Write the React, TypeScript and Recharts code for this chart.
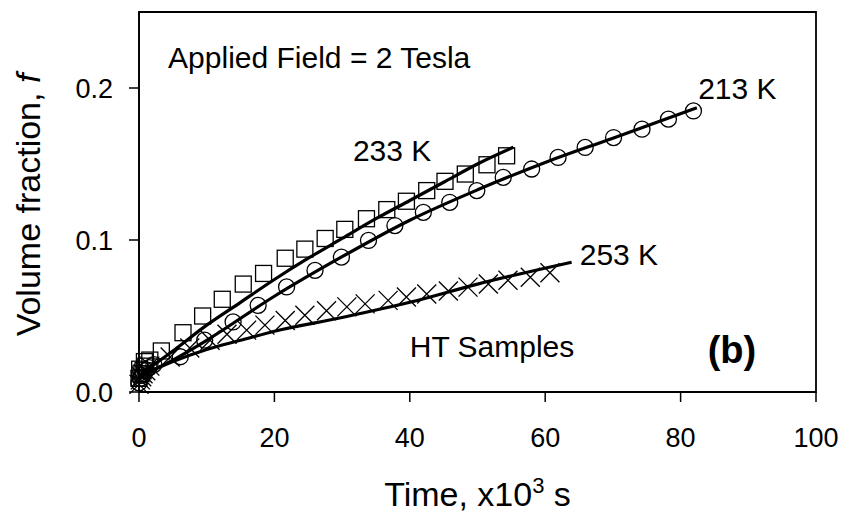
import { ComposedChart, Scatter, Line, XAxis, YAxis, ReferenceArea, ReferenceDot } from 'recharts';

// 213 K (circles), 233 K (squares), 253 K (crosses); time in 10^3 s, f = volume fraction
const circles213 = [
  { x: 0, y: 0.006 }, { x: 0.2, y: 0.009 }, { x: 0.4, y: 0.011 }, { x: 0.7, y: 0.012 },
  { x: 1.0, y: 0.014 }, { x: 1.5, y: 0.016 }, { x: 2.2, y: 0.018 }, { x: 6.1, y: 0.0232 },
  { x: 9.7, y: 0.0341 }, { x: 13.9, y: 0.0461 }, { x: 17.6, y: 0.057 }, { x: 21.8, y: 0.0691 },
  { x: 26.0, y: 0.08 }, { x: 29.9, y: 0.0887 }, { x: 33.9, y: 0.0997 }, { x: 37.8, y: 0.1095 },
  { x: 42.0, y: 0.1182 }, { x: 45.9, y: 0.1248 }, { x: 49.9, y: 0.1325 }, { x: 53.8, y: 0.1412 },
  { x: 58.0, y: 0.1467 }, { x: 61.9, y: 0.1543 }, { x: 65.9, y: 0.1609 }, { x: 70.1, y: 0.1674 },
  { x: 74.3, y: 0.1729 }, { x: 78.2, y: 0.1795 }, { x: 81.9, y: 0.1849 },
];

const squares233 = [
  { x: 0, y: 0.009 }, { x: 0.1, y: 0.015 }, { x: 0.3, y: 0.012 }, { x: 0.6, y: 0.014 },
  { x: 0.8, y: 0.020 }, { x: 1.0, y: 0.017 }, { x: 1.6, y: 0.021 }, { x: 3.3, y: 0.027 },
  { x: 6.5, y: 0.039 }, { x: 9.4, y: 0.050 }, { x: 12.3, y: 0.061 }, { x: 15.4, y: 0.071 },
  { x: 18.4, y: 0.078 }, { x: 21.6, y: 0.088 }, { x: 24.5, y: 0.094 }, { x: 27.5, y: 0.101 },
  { x: 30.4, y: 0.107 }, { x: 33.6, y: 0.114 }, { x: 36.6, y: 0.120 }, { x: 39.5, y: 0.1255 },
  { x: 42.5, y: 0.1325 }, { x: 45.2, y: 0.1386 }, { x: 48.2, y: 0.1434 }, { x: 51.4, y: 0.1495 },
  { x: 54.3, y: 0.1554 },
];

const crosses253 = [
  { x: 0, y: 0.005 }, { x: 0.2, y: 0.008 }, { x: 0.4, y: 0.010 }, { x: 0.6, y: 0.012 },
  { x: 1.0, y: 0.014 }, { x: 1.6, y: 0.017 }, { x: 4.6, y: 0.023 }, { x: 7.5, y: 0.029 },
  { x: 10.5, y: 0.034 }, { x: 13.0, y: 0.038 }, { x: 15.9, y: 0.0407 }, { x: 18.6, y: 0.044 },
  { x: 21.6, y: 0.047 }, { x: 24.5, y: 0.0505 }, { x: 27.7, y: 0.0535 }, { x: 30.7, y: 0.056 },
  { x: 33.4, y: 0.058 }, { x: 36.8, y: 0.0603 }, { x: 39.5, y: 0.0625 }, { x: 42.5, y: 0.0645 },
  { x: 45.7, y: 0.0665 }, { x: 48.6, y: 0.069 }, { x: 51.6, y: 0.071 }, { x: 54.5, y: 0.0735 },
  { x: 57.8, y: 0.0755 }, { x: 60.7, y: 0.0785 },
];

// fitted curves
const fit213 = [
  { x: 0, y: 0.010 }, { x: 5, y: 0.021 }, { x: 10, y: 0.034 }, { x: 20, y: 0.063 },
  { x: 30, y: 0.089 }, { x: 40, y: 0.113 }, { x: 50, y: 0.133 }, { x: 60, y: 0.151 },
  { x: 70, y: 0.167 }, { x: 82.4, y: 0.187 },
];

const fit233 = [
  { x: 0, y: 0.011 }, { x: 5, y: 0.027 }, { x: 10, y: 0.044 }, { x: 15, y: 0.059 },
  { x: 20, y: 0.074 }, { x: 25, y: 0.088 }, { x: 30, y: 0.101 }, { x: 35, y: 0.114 },
  { x: 40, y: 0.126 }, { x: 45, y: 0.138 }, { x: 50, y: 0.150 }, { x: 55.3, y: 0.161 },
];

const fit253 = [
  { x: 0, y: 0.010 }, { x: 5, y: 0.020 }, { x: 10, y: 0.028 }, { x: 15, y: 0.034 },
  { x: 20, y: 0.040 }, { x: 30, y: 0.049 }, { x: 40, y: 0.059 }, { x: 50, y: 0.071 },
  { x: 63.9, y: 0.0854 },
];

const xTicks = [0, 20, 40, 60, 80, 100];
const yTicks = [0, 0.1, 0.2];

const notes = [
  { x: 4.3, y: 0.2131, text: 'Applied Field = 2 Tesla', bold: false },
  { x: 31.6, y: 0.1521, text: '233 K', bold: false },
  { x: 82.6, y: 0.1928, text: '213 K', bold: false },
  { x: 65.1, y: 0.0833, text: '253 K', bold: false },
  { x: 40.0, y: 0.023, text: 'HT Samples', bold: false },
  { x: 84.0, y: 0.019, text: '(b)', bold: true },
];

const FONT = '"Liberation Sans", Arial, Helvetica, sans-serif';

const Square = (p: any) => (
  <rect x={p.cx - 8} y={p.cy - 8} width={16} height={16} fill="none" stroke="#000" strokeWidth={1.3} />
);
const Circle = (p: any) => <circle cx={p.cx} cy={p.cy} r={8} fill="none" stroke="#000" strokeWidth={1.3} />;
const Cross = (p: any) => (
  <path
    d={`M${p.cx - 9.5},${p.cy - 9.5}L${p.cx + 9.5},${p.cy + 9.5}M${p.cx - 9.5},${p.cy + 9.5}L${p.cx + 9.5},${p.cy - 9.5}`}
    stroke="#000"
    strokeWidth={1.3}
    fill="none"
  />
);

const XTitle = (props: any) => {
  const vb = props.viewBox;
  return (
    <text x={vb.x + vb.width / 2} y={vb.y + 114} textAnchor="middle" fontSize={34} fontFamily={FONT} fill="#000">
      Time, x10
      <tspan dy={-13} fontSize={22}>3</tspan>
      <tspan dy={13}> s</tspan>
    </text>
  );
};

const YTitle = (props: any) => {
  const vb = props.viewBox;
  const cx = 40;
  const cy = vb.y + vb.height / 2 + 3;
  return (
    <text x={cx} y={cy} transform={`rotate(-90, ${cx}, ${cy})`} textAnchor="middle" fontSize={34} fontFamily={FONT} fill="#000">
      Volume fraction, <tspan fontStyle="italic">f</tspan>
    </text>
  );
};

export default function App() {
  return (
    <div style={{ position: 'absolute', left: 0, top: 0, width: 847, height: 521, background: '#fff' }}>
      <ComposedChart width={847} height={521} margin={{ top: 12, right: 31, left: 0, bottom: 0 }}>
        <XAxis
          type="number"
          dataKey="x"
          domain={[0, 100]}
          ticks={xTicks}
          tickSize={10}
          tickMargin={26}
          height={129}
          stroke="#000"
          strokeWidth={1.5}
          tick={{ fill: '#000', fontSize: 27, fontFamily: FONT }}
          label={<XTitle />}
        />
        <YAxis
          type="number"
          dataKey="y"
          domain={[0, 0.25]}
          ticks={yTicks}
          tickFormatter={(v: number) => v.toFixed(1)}
          tickSize={10}
          tickMargin={16}
          width={139}
          stroke="#000"
          strokeWidth={1.5}
          tick={{ fill: '#000', fontSize: 27, fontFamily: FONT }}
          label={<YTitle />}
        />
        <ReferenceArea x1={0} x2={100} y1={0} y2={0.25} fill="none" stroke="#000" strokeWidth={1.8} />
        <Scatter data={squares233} dataKey="y" shape={Square} isAnimationActive={false} />
        <Scatter data={circles213} dataKey="y" shape={Circle} isAnimationActive={false} />
        <Scatter data={crosses253} dataKey="y" shape={Cross} isAnimationActive={false} />
        <Line data={fit233} dataKey="y" type="monotone" stroke="#000" strokeWidth={3.2} dot={false} isAnimationActive={false} />
        <Line data={fit213} dataKey="y" type="monotone" stroke="#000" strokeWidth={3.2} dot={false} isAnimationActive={false} />
        <Line data={fit253} dataKey="y" type="monotone" stroke="#000" strokeWidth={3.2} dot={false} isAnimationActive={false} />
        {notes.map((n) => (
          <ReferenceDot
            key={n.text}
            x={n.x}
            y={n.y}
            r={0}
            shape={(p: any) => (
              <text
                x={p.cx}
                y={p.cy}
                fontSize={n.bold ? 38 : 30}
                fontWeight={n.bold ? 'bold' : 'normal'}
                fontFamily={FONT}
                fill="#000"
              >
                {n.text}
              </text>
            )}
          />
        ))}
      </ComposedChart>
    </div>
  );
}
